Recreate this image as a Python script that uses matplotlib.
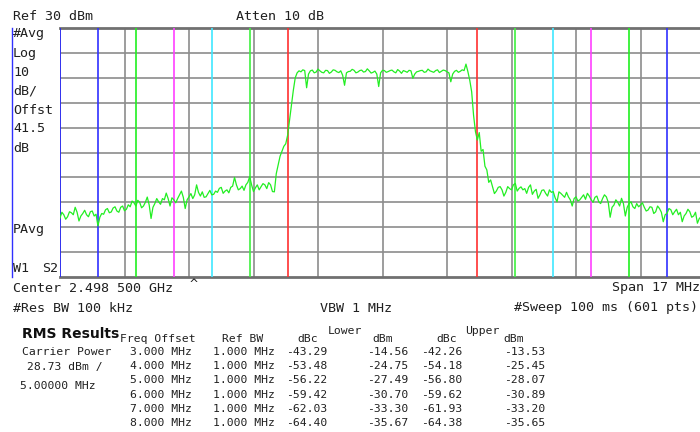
import matplotlib
matplotlib.use('Agg')
import matplotlib.pyplot as plt
from matplotlib.lines import Line2D
import numpy as np

W, H = 700, 432

# sweep: 17 MHz span around 2.4985 GHz, 0.05 MHz step
offset_mhz = np.arange(-170, 171) / 20.0

# trace levels on the 0.1 MHz points
level_main = [
    -46.3, -45.0, -45.8, -44.2, -42.0, -47.5, -44.5, -45.0, -43.8, -45.5,
    -49.5, -44.5, -43.0, -44.2, -42.3, -43.5, -42.0, -43.4, -41.0, -39.5,
    -41.5, -40.0, -41.5, -37.9, -46.5, -40.5, -39.8, -38.5, -36.3, -41.5,
    -39.0, -38.5, -35.5, -42.5, -37.8, -38.5, -33.0, -37.5, -38.0, -36.5,
    -37.0, -35.5, -34.4, -36.4, -35.0, -34.0, -30.0, -35.0, -33.5, -33.0,
    -29.7, -35.7, -33.0, -33.7, -33.0, -32.1, -35.7, -28.5, -21.5, -17.5,
    -13.0, -1.0, 10.0, 12.8,
    13.2, 6.0, 12.8, 12.0, 13.5, 12.2, 13.0, 11.8, 13.2, 12.4,
    12.8, 7.0, 12.5, 13.4, 12.0, 12.9, 12.3, 13.6, 11.9, 12.7,
    6.5, 13.0, 12.2, 12.9, 12.4, 13.3, 11.8, 12.6, 13.0, 9.8,
    12.4, 12.9, 12.2, 13.5, 12.5, 12.9, 12.1, 13.1, 12.4, 8.4,
    12.6, 12.2, 13.2, 15.5,
    9.0, -5.0, -15.0, -19.5, -25.5, -32.0, -33.7, -35.5, -33.7, -37.5,
    -33.7, -35.0, -32.4, -34.4, -35.0, -36.4, -33.0, -35.5, -38.4, -35.2,
    -36.4, -35.0, -35.7, -39.8, -36.4, -38.0, -37.8, -41.5, -37.8, -39.0,
    -37.0, -36.4, -39.0, -38.0, -39.8, -38.5, -37.8, -46.0, -41.1, -40.0,
    -38.4, -45.5, -40.5, -41.8, -40.5, -41.1, -42.0, -43.1, -42.0, -43.8,
    -42.5, -47.8, -44.4, -43.0, -43.8, -45.0, -47.8, -44.5, -43.8, -45.5,
    -48.4, -45.8, -44.5,
]

# trace levels halfway between them (-8.45 ... 8.45 MHz)
level_mid = [
    -44.0, -46.8, -43.8, -45.0, -44.0, -45.5, -43.2, -45.8, -43.5, -44.8,
    -46.0, -44.8, -42.5, -43.9, -41.8, -44.0, -41.5, -42.8, -41.8, -40.2,
    -39.2, -42.2, -40.0, -41.0, -42.0, -38.5, -40.8, -39.0, -38.5, -38.2,
    -40.2, -37.0, -38.0, -39.0, -36.5, -37.0, -36.0, -35.8, -37.8, -35.2,
    -36.8, -36.0, -34.0, -35.5, -36.2, -33.5, -33.0, -34.5, -35.2, -32.0,
    -33.0, -34.2, -35.0, -32.5, -34.5, -33.0, -35.8, -25.0, -19.5, -16.5,
    -7.0, 5.0, 12.0,
    12.4, 12.9, 11.5, 13.1, 12.3, 12.8, 12.0, 12.9, 12.3, 13.0,
    12.1, 11.0, 12.0, 12.6, 13.0, 12.3, 13.1, 12.5, 12.8, 12.2,
    11.5, 12.0, 12.9, 12.5, 13.1, 12.0, 12.7, 12.9, 12.2, 12.8,
    11.5, 12.6, 13.0, 12.4, 12.8, 12.2, 13.2, 12.6, 12.9, 12.0,
    11.5, 13.0, 12.6, 12.9,
    12.5, 4.4, -11.6, -12.0, -18.8, -27.0, -31.0, -36.5, -34.0, -35.0,
    -36.0, -34.5, -33.0, -35.5, -33.8, -34.5, -34.0, -36.8, -34.8, -37.0,
    -35.0, -37.5, -36.0, -38.2, -35.8, -37.2, -36.0, -39.0, -38.5, -39.5,
    -38.0, -38.8, -37.5, -40.0, -37.5, -40.5, -37.0, -40.0, -42.0, -39.0,
    -41.5, -40.5, -42.0, -39.8, -42.5, -41.8, -40.2, -43.5, -41.8, -44.5,
    -41.5, -44.0, -45.0, -42.5, -45.0, -42.8, -44.0, -45.5, -42.8, -46.0,
    -44.0, -46.5, -44.8,
]

level_dbm = np.empty(len(offset_mhz))
level_dbm[0::2] = level_main
level_dbm[1::2] = level_mid

# integration band edges (MHz from centre) and their colours
edge_mhz = [2.5, 3.5, 4.5, 5.5, 6.5, 7.5, 8.5]
edge_colors = ['#ff3030', '#40f040', '#40e8ff', '#ff40ff', '#20f020', '#3030ff', '#2020ff']

# RMS results table
freq_offsets = ['3.000', '4.000', '5.000', '6.000', '7.000', '8.000']
ref_bw = ['1.000'] * 6
lower_dbc = [-43.29, -53.48, -56.22, -59.42, -62.03, -64.40]
lower_dbm = [-14.56, -24.75, -27.49, -30.70, -33.30, -35.67]
upper_dbc = [-42.26, -54.18, -56.80, -59.62, -61.93, -64.38]
upper_dbm = [-13.53, -25.45, -28.07, -30.89, -33.20, -35.65]

plt.rcParams['font.family'] = 'DejaVu Sans Mono'

fig = plt.figure(figsize=(W / 100, H / 100), dpi=100)
fig.patch.set_facecolor('white')

x0, x1, y0, y1 = 60, 705, 28, 277
ax = fig.add_axes([x0 / W, 1 - y1 / H, (x1 - x0) / W, (y1 - y0) / H])
ax.set_xlim(-8.5, 8.5)
ax.set_ylim(-70, 30)
ax.axis('off')

grid_c = '#8c8c8c'
for v in range(-60, 30, 10):
    ax.axhline(v, color=grid_c, lw=1.2, zorder=1)
for k in range(0, 11):
    ax.axvline(-8.5 + 1.7 * k, color=grid_c, lw=1.2, zorder=1)
ax.axhline(30, color='#707070', lw=2.0, zorder=1, clip_on=False)
ax.axhline(-70, color='#707070', lw=2.0, zorder=1, clip_on=False)

for off, c in zip(edge_mhz, edge_colors):
    ax.axvline(-off, color=c, lw=1.2, zorder=2)
    ax.axvline(off, color=c, lw=1.2, zorder=2)

ax.plot(offset_mhz, level_dbm, color='#22ee22', lw=0.9, zorder=3)

# thin marker bar on the far left of the screen
fig.add_artist(Line2D([12 / W, 12 / W], [1 - 28 / H, 1 - 277 / H],
                      color='#3030ff', lw=1.0))


def put(x, y, s, size=9.6, ha='left', va='center', **kw):
    fig.text(x / W, 1 - y / H, s, fontsize=size, ha=ha, va=va,
             color='#202020', **kw)


put(13, 17, 'Ref 30 dBm')
put(236, 17, 'Atten 10 dB')
for i, s in enumerate(['#Avg', 'Log', '10', 'dB/', 'Offst', '41.5', 'dB']):
    put(13, 34 + 19 * i, s)
put(13, 229, 'PAvg')
put(13, 268, 'W1')
put(42, 268, 'S2')
put(13, 288, 'Center 2.498 500 GHz')
put(190, 284, '^')
put(700, 288, 'Span 17 MHz', ha='right')
put(13, 308, '#Res BW 100 kHz')
put(320, 308, 'VBW 1 MHz')
put(698, 308, '#Sweep 100 ms (601 pts)', ha='right')

# results block
fig.text(22 / W, 1 - 334 / H, 'RMS Results', fontsize=10, fontweight='bold',
         family='DejaVu Sans', ha='left', va='center', color='#101010')
ts = 8.2
put(120, 339, 'Freq Offset', size=ts)
put(222, 339, 'Ref BW', size=ts)
put(318, 339, 'dBc', size=ts, ha='right')
put(328, 331, 'Lower', size=ts)
put(372, 339, 'dBm', size=ts)
put(457, 339, 'dBc', size=ts, ha='right')
put(465, 331, 'Upper', size=ts)
put(503, 339, 'dBm', size=ts)

put(22, 352, 'Carrier Power', size=ts)
put(27, 367, '28.73 dBm /', size=ts)
put(20, 386, '5.00000 MHz', size=ts)

for i in range(len(freq_offsets)):
    y = 352 + 14.2 * i
    put(192, y, freq_offsets[i] + ' MHz', size=ts, ha='right')
    put(275, y, ref_bw[i] + ' MHz', size=ts, ha='right')
    put(327, y, '%.2f' % lower_dbc[i], size=ts, ha='right')
    put(408, y, '%.2f' % lower_dbm[i], size=ts, ha='right')
    put(462, y, '%.2f' % upper_dbc[i], size=ts, ha='right')
    put(545, y, '%.2f' % upper_dbm[i], size=ts, ha='right')

fig.savefig('out.png', dpi=100)
